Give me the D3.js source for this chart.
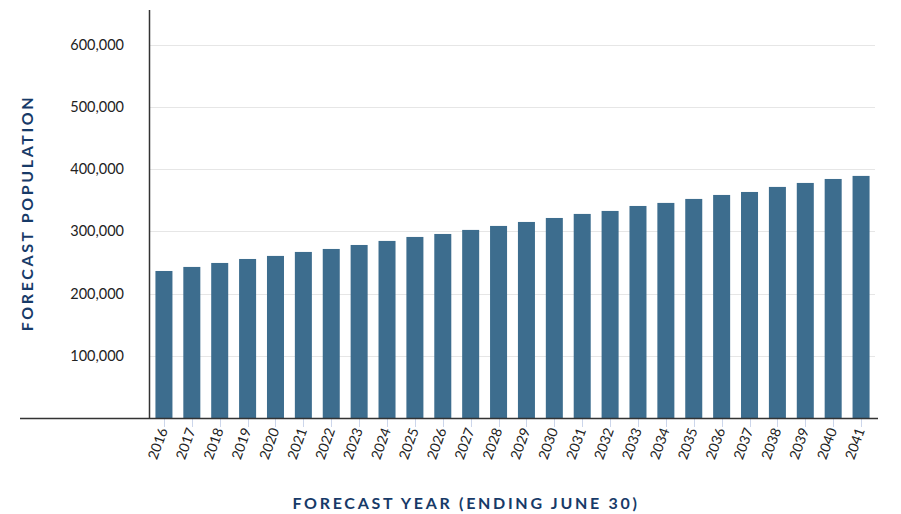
<!DOCTYPE html>
<html>
<head>
<meta charset="utf-8">
<script src="https://cdn.jsdelivr.net/npm/d3@7"></script>
<style>
  body { margin: 0; background: #fff; }
  svg { display: block; font-family: Lato, "Open Sans", sans-serif; }
</style>
</head>
<body>
<svg id="chart" width="901" height="514"></svg>
<script>
const years = ['2016', '2017', '2018', '2019', '2020', '2021', '2022', '2023', '2024',
  '2025', '2026', '2027', '2028', '2029', '2030', '2031', '2032', '2033', '2034',
  '2035', '2036', '2037', '2038', '2039', '2040', '2041'];
const population = [236300, 242800, 249200, 255600, 260500, 266900, 271700, 278100,
  284600, 291000, 295800, 302300, 308700, 315100, 321500, 328000, 332800, 340800,
  345700, 352100, 358500, 363300, 371400, 377800, 384200, 389100];
const yTicks = [100000, 200000, 300000, 400000, 500000, 600000];

const svg = d3.select('#chart');
const plotLeft = 150;
const plotRight = 875;
const plotTop = 10;
const plotBottom = 418;

const x = d3.scaleBand()
  .domain(years)
  .range([plotLeft, plotRight])
  .paddingInner(0.39)
  .paddingOuter(0.195);

const y = d3.scaleLinear()
  .domain([0, 600000])
  .range([plotBottom, 44.7]);

// gridlines
svg.append('g')
  .selectAll('line')
  .data(yTicks)
  .enter()
  .append('line')
  .attr('x1', plotLeft)
  .attr('x2', plotRight)
  .attr('y1', d => Math.round(y(d)) + 0.5)
  .attr('y2', d => Math.round(y(d)) + 0.5)
  .attr('stroke', '#e6e6e6')
  .attr('stroke-width', 1);

// y tick labels
svg.append('g')
  .selectAll('text')
  .data(yTicks)
  .enter()
  .append('text')
  .attr('x', 124)
  .attr('y', d => y(d))
  .attr('dy', '0.35em')
  .attr('text-anchor', 'end')
  .attr('fill', '#222')
  .attr('font-size', 14.5)
  .text(d => d3.format(',')(d));

// bars
svg.append('g')
  .selectAll('rect')
  .data(population)
  .enter()
  .append('rect')
  .attr('x', (d, i) => x(years[i]))
  .attr('width', x.bandwidth())
  .attr('y', d => y(d))
  .attr('height', d => plotBottom - y(d))
  .attr('fill', '#3d6d8e');

// x ticks
svg.append('g')
  .selectAll('line')
  .data(years)
  .enter()
  .append('line')
  .attr('x1', d => Math.round(x(d) + x.bandwidth() / 2) + 0.5)
  .attr('x2', d => Math.round(x(d) + x.bandwidth() / 2) + 0.5)
  .attr('y1', plotBottom)
  .attr('y2', plotBottom + 9)
  .attr('stroke', '#ccd6eb');

// x tick labels
svg.append('g')
  .selectAll('text')
  .data(years)
  .enter()
  .append('text')
  .attr('transform', d => `translate(${x(d) + x.bandwidth() / 2 + 4}, ${plotBottom + 12}) rotate(-70)`)
  .attr('text-anchor', 'end')
  .attr('fill', '#222')
  .attr('font-size', 14)
  .text(d => d);

// axis lines
svg.append('line')
  .attr('x1', 20)
  .attr('x2', 878)
  .attr('y1', plotBottom + 0.5)
  .attr('y2', plotBottom + 0.5)
  .attr('stroke', '#333')
  .attr('stroke-width', 1.5);
svg.append('line')
  .attr('x1', plotLeft - 0.5)
  .attr('x2', plotLeft - 0.5)
  .attr('y1', plotTop)
  .attr('y2', plotBottom)
  .attr('stroke', '#333')
  .attr('stroke-width', 1.5);

// axis titles
svg.append('text')
  .attr('transform', 'translate(33, 213) rotate(-90)')
  .attr('text-anchor', 'middle')
  .attr('fill', '#173a68')
  .attr('font-size', 16)
  .attr('font-weight', 'bold')
  .attr('letter-spacing', 2.6)
  .text('FORECAST POPULATION');

svg.append('text')
  .attr('x', 466)
  .attr('y', 509)
  .attr('text-anchor', 'middle')
  .attr('fill', '#173a68')
  .attr('font-size', 16)
  .attr('font-weight', 'bold')
  .attr('letter-spacing', 2.7)
  .text('FORECAST YEAR (ENDING JUNE 30)');
</script>
</body>
</html>
